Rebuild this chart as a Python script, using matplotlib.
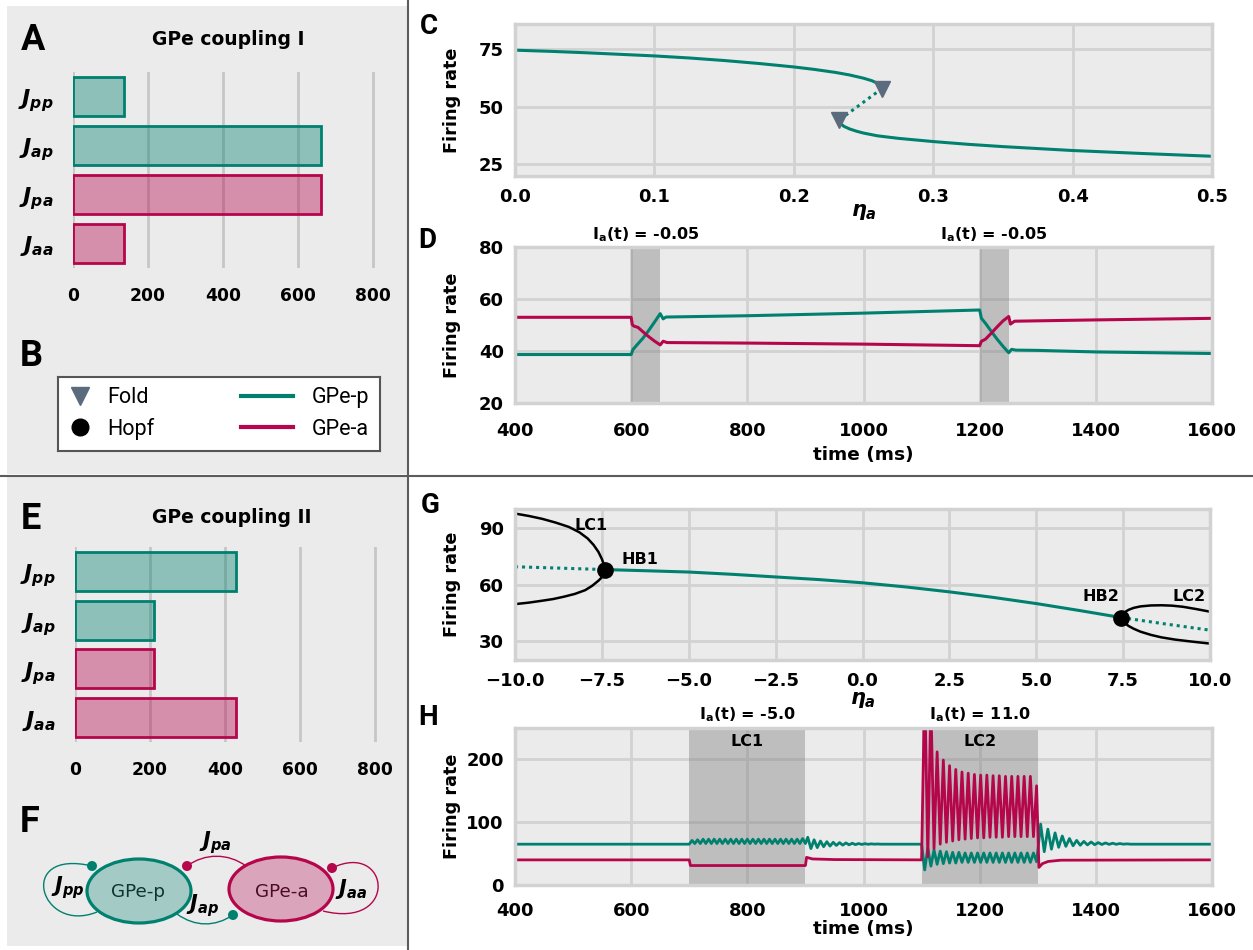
import numpy as np
import matplotlib
matplotlib.use("Agg")
import matplotlib.pyplot as plt
from matplotlib.colors import to_rgba
from matplotlib.patches import Ellipse, Rectangle, Circle, PathPatch
from matplotlib.path import Path
from matplotlib.transforms import blended_transform_factory

# ----------------------------- style -----------------------------
W, H = 1253, 950
TEAL = "#00806f"
CRIMSON = "#b5064b"
FOLD_GRAY = "#5b6b7e"
PANEL_BG = "#ebebeb"
GRID = "#d2d2d2"
DIVIDER = "#5c5c5c"

plt.rcParams.update({
    "font.family": "DejaVu Sans",
    "font.weight": "bold",
    "axes.labelweight": "bold",
    "mathtext.fontset": "custom",
    "mathtext.it": "DejaVu Sans:italic:bold",
    "mathtext.rm": "DejaVu Sans:bold",
    "mathtext.bf": "DejaVu Sans:bold",
})

# ----------------------------- data -----------------------------
J_LABELS = [r"$J_{pp}$", r"$J_{ap}$", r"$J_{pa}$", r"$J_{aa}$"]
J_COUPLING_I = [136, 662, 662, 136]
J_COUPLING_II = [430, 210, 210, 430]
J_COLORS = [TEAL, TEAL, CRIMSON, CRIMSON]

# C: continuation in eta_a (coupling I)
C_UP_ETA = [0.0, 0.025, 0.05, 0.075, 0.1, 0.125, 0.15, 0.175, 0.2, 0.215, 0.23, 0.24,
            0.25, 0.256, 0.26, 0.2625, 0.2633]
C_UP_RATE = [74.6, 74.1, 73.5, 72.8, 72.1, 71.2, 70.1, 68.8, 67.3, 66.2, 64.9, 63.8,
             62.4, 61.3, 60.2, 59.2, 57.9]
C_UNST_ETA = [0.2633, 0.2324]
C_UNST_RATE = [57.9, 44.1]
C_LO_ETA = [0.2324, 0.2335, 0.236, 0.24, 0.245, 0.25, 0.26, 0.275, 0.3, 0.325, 0.35,
            0.4, 0.45, 0.5]
C_LO_RATE = [44.1, 42.6, 41.4, 40.3, 39.3, 38.5, 37.3, 36.2, 34.8, 33.6, 32.6,
             30.9, 29.6, 28.4]
C_FOLD_ETA = [0.2633, 0.2324]
C_FOLD_RATE = [57.9, 44.1]

# D: time series (coupling I)
D_T_P = [400, 600, 603, 610, 620, 630, 640, 650, 655, 660, 800, 1000, 1200,
         1203, 1210, 1220, 1230, 1240, 1250, 1255, 1262, 1300, 1400, 1500, 1600]
D_RATE_P = [38.6, 38.6, 40.5, 42.3, 44.8, 47.8, 51.0, 54.3, 52.3, 53.0, 53.5, 54.5, 55.7,
            52.5, 50.6, 47.5, 44.5, 41.8, 39.3, 40.6, 40.3, 40.2, 39.6, 39.3, 39.0]
D_T_A = [400, 600, 602, 605, 612, 620, 630, 640, 650, 655, 662, 800, 1000, 1200,
         1203, 1210, 1220, 1230, 1240, 1250, 1253, 1260, 1400, 1600]
D_RATE_A = [52.9, 52.9, 50.0, 49.5, 49.0, 47.4, 45.5, 43.8, 42.3, 43.7, 43.2, 43.0, 42.6, 42.0,
            43.7, 44.5, 46.8, 49.2, 51.5, 53.2, 50.3, 51.4, 51.9, 52.5]
D_STIM = [(600, 650), (1200, 1250)]

# G: continuation in eta_a (coupling II)
G_STABLE_ETA = [-7.40, -6.25, -5.0, -3.75, -2.5, -1.25, 0.0, 1.25, 2.5, 3.75, 5.0, 6.25, 7.44]
G_STABLE_RATE = [67.9, 67.3, 66.6, 65.4, 64.0, 62.6, 60.9, 58.7, 56.1, 53.2, 49.9, 46.2, 42.5]
G_UNST1_ETA = [-10.0, -8.75, -7.40]
G_UNST1_RATE = [69.4, 68.7, 67.9]
G_UNST2_ETA = [7.44, 8.75, 10.0]
G_UNST2_RATE = [42.5, 39.0, 35.8]
G_LC1_ETA = [-10.0, -9.6, -9.22, -8.83, -8.45, -8.15, -7.91, -7.74, -7.6, -7.5, -7.44, -7.40,
             -7.42, -7.48, -7.6, -7.78, -7.98, -8.28, -8.6, -8.9, -9.22, -9.6, -10.0]
G_LC1_RATE = [97.6, 96.3, 94.8, 92.8, 90.5, 87.7, 84.4, 81.0, 77.3, 73.5, 70.5, 67.9,
              66.0, 64.2, 62.0, 59.3, 57.0, 55.0, 53.5, 52.3, 51.4, 50.4, 49.6]
G_LC2_ETA = [10.0, 9.6, 9.22, 8.9, 8.6, 8.3, 8.0, 7.8, 7.66, 7.55, 7.47, 7.44,
             7.47, 7.55, 7.66, 7.8, 8.0, 8.3, 8.6, 9.0, 9.5, 10.0]
G_LC2_RATE = [45.6, 47.0, 48.2, 48.8, 49.0, 48.9, 48.4, 47.6, 46.6, 45.4, 44.0, 42.5,
              41.0, 39.5, 38.0, 36.6, 35.0, 33.3, 32.0, 30.8, 29.7, 28.7]
G_HOPF_ETA = [-7.40, 7.44]
G_HOPF_RATE = [67.9, 42.5]

# H: time series (coupling II), oscillations given as read-off peaks / troughs
H_P_LC1_PEAKS = [71, 72, 73, 73, 73, 73, 73, 73, 73, 73, 73, 73, 73, 73, 73, 73, 73, 73, 73, 73, 74]
H_P_LC1_TROUGHS = [66, 66, 66, 66, 66, 66, 66, 66, 66, 66, 66, 66, 66, 66, 66, 66, 66, 66, 66, 66, 66]
H_P_RING1 = [76, 58, 72, 59.5, 70, 61, 69, 62, 68, 63, 67.5, 63.5, 67, 64, 66.5, 64.3,
             66, 64.6, 65.8, 64.8, 65.5, 65, 65.3, 65]
H_P_LC2_TROUGHS = [24, 30, 33, 34, 35, 35, 36, 36, 36, 36, 36, 36, 36, 36, 36, 36, 36, 36, 37]
H_P_LC2_PEAKS = [59, 56, 54, 53, 52, 52, 51, 51, 51, 51, 51, 51, 51, 51, 51, 51, 51, 51]
H_P_RING2 = [97, 53, 89, 57, 83, 60, 78, 61.5, 74, 62.5, 71, 63.3, 69.5, 63.8, 68.5, 64.2,
             67.5, 64.5, 67, 64.7, 66.5, 64.8, 66, 65, 65.5, 65]
H_A_LC2_PEAKS = [320, 290, 212, 199, 190, 184, 180, 178, 176, 175, 175, 174, 174, 173, 173, 173, 173, 173, 158]
H_A_LC2_TROUGHS = [45, 58, 65, 68, 70, 72, 73, 74, 75, 75, 76, 76, 76, 77, 77, 77, 77, 77]
H_A_PRE_T = [400, 700, 702, 900, 902, 912, 950, 1100]
H_A_PRE_V = [40, 40, 31, 31, 44, 41.5, 40.5, 40]
H_A_POST_T = [1302, 1308, 1318, 1340, 1600]
H_A_POST_V = [28, 34, 37.5, 39.5, 40]
H_STIM = [(700, 900), (1100, 1300)]


def interleave(first, second):
    out = []
    for i in range(max(len(first), len(second))):
        if i < len(first):
            out.append(first[i])
        if i < len(second):
            out.append(second[i])
    return out


def build_h_series():
    # GPe-p
    lc1 = interleave(H_P_LC1_PEAKS, H_P_LC1_TROUGHS)
    lc2 = interleave(H_P_LC2_TROUGHS, H_P_LC2_PEAKS)
    tp = np.concatenate([[400, 700], np.linspace(700, 900, len(lc1) + 1)[1:],
                         np.linspace(904, 1030, len(H_P_RING1)), [1100],
                         np.linspace(1100, 1298, len(lc2) + 1)[1:],
                         np.linspace(1305, 1460, len(H_P_RING2)), [1600]])
    vp = np.concatenate([[65, 65], lc1, H_P_RING1, [65], lc2, H_P_RING2, [65]])
    # GPe-a
    lc2a = interleave(H_A_LC2_PEAKS, H_A_LC2_TROUGHS)
    ta = np.concatenate([H_A_PRE_T, np.linspace(1100, 1298, len(lc2a) + 1)[1:], H_A_POST_T])
    va = np.concatenate([H_A_PRE_V, lc2a, H_A_POST_V])
    return tp, vp, ta, va


# ----------------------------- helpers -----------------------------
fig = plt.figure(figsize=(W / 100, H / 100), dpi=100)


def px_axes(left, top, right, bottom, **kw):
    return fig.add_axes([left / W, 1 - bottom / H, (right - left) / W, (bottom - top) / H], **kw)


def fig_text(x, y, s, **kw):
    return fig.text(x / W, 1 - y / H, s, **kw)


def style_right(ax, xpad):
    ax.set_facecolor(PANEL_BG)
    ax.grid(True, color=GRID, lw=2.0)
    ax.set_axisbelow(True)
    for sp in ax.spines.values():
        sp.set_color(GRID)
        sp.set_linewidth(2.5)
    ax.tick_params(length=0, labelsize=13)
    ax.tick_params(axis="x", pad=xpad)
    ax.tick_params(axis="y", pad=8)
    ax.set_ylabel("Firing rate", fontsize=12.7, fontweight="bold")
    ax.yaxis.set_label_coords(-0.0904, 0.5)
    ax.yaxis.label.set_va("center")


def set_xlabel_at(ax, text, y, size):
    ax.set_xlabel(text, fontsize=size, fontweight="bold")
    ax.xaxis.set_label_coords(0.5, y)
    ax.xaxis.label.set_va("center")


def bar_panel(ax, values):
    ax.barh(range(len(values)), values, height=0.8,
            color=[to_rgba(c, 0.4) for c in J_COLORS], edgecolor=J_COLORS, linewidth=2, zorder=2)
    ax.set_ylim(len(values) - 0.5, -0.5)
    ax.set_xlim(0, 850)
    ax.set_xticks([0, 200, 400, 600, 800])
    ax.set_yticks(range(len(values)))
    ax.set_yticklabels(J_LABELS, fontsize=16)
    ax.grid(axis="x", color="#c6c6c6", lw=2)
    ax.set_axisbelow(True)
    ax.set_facecolor("none")
    for sp in ax.spines.values():
        sp.set_visible(False)
    ax.tick_params(length=0)
    ax.tick_params(axis="x", labelsize=12.3, pad=14)
    ax.tick_params(axis="y", pad=14)


# ----------------------------- background & dividers -----------------------------
bg = fig.add_axes([0, 0, 1, 1], zorder=-5)
bg.set_xlim(0, W)
bg.set_ylim(H, 0)
bg.axis("off")
bg.add_patch(Rectangle((7, 6), 401, 468, fc=PANEL_BG, ec="none"))
bg.add_patch(Rectangle((7, 477), 401, 469, fc=PANEL_BG, ec="none"))
bg.plot([408, 408], [0, H], color=DIVIDER, lw=1.5)
bg.plot([0, W], [475.5, 475.5], color=DIVIDER, lw=1.5)

# ----------------------------- A / E: coupling bars -----------------------------
axA = px_axes(73, 72, 391.75, 268)
bar_panel(axA, J_COUPLING_I)
fig_text(228, 45, "GPe coupling I", fontsize=13.5, ha="center", va="baseline")

axE = px_axes(75, 547, 393.75, 742)
bar_panel(axE, J_COUPLING_II)
fig_text(232, 523, "GPe coupling II", fontsize=13.5, ha="center", va="baseline")

# ----------------------------- B: legend -----------------------------
axB = px_axes(57.7, 376.7, 380, 450.7)
axB.set_xlim(57.7, 380)
axB.set_ylim(450.7, 376.7)
axB.set_xticks([])
axB.set_yticks([])
axB.set_facecolor("white")
for sp in axB.spines.values():
    sp.set_color("#555555")
    sp.set_linewidth(1.5)
axB.plot([80], [396], marker="v", ms=13, color=FOLD_GRAY, ls="none")
axB.plot([80], [427.5], marker="o", ms=12, color="black", ls="none")
axB.plot([240.7, 293.3], [396, 396], color=TEAL, lw=3)
axB.plot([240.7, 293.3], [427.5, 427.5], color=CRIMSON, lw=3)
for xx, yy, s in [(107, 403.3, "Fold"), (107, 435, "Hopf"), (311.7, 403.3, "GPe-p"), (311.7, 435, "GPe-a")]:
    axB.text(xx, yy, s, fontsize=15.5, fontweight="normal", family="Roboto", va="baseline", ha="left")

# ----------------------------- F: network sketch -----------------------------
bg.add_patch(Ellipse((139, 891), 104, 64, fc=to_rgba(TEAL, 0.3), ec=TEAL, lw=2.3))
bg.add_patch(Ellipse((281, 889), 104, 64, fc=to_rgba(CRIMSON, 0.3), ec=CRIMSON, lw=2.3))
bg.text(138.5, 896.7, "GPe-p", fontsize=13.2, fontweight="normal", color="#0f3530", ha="center", va="baseline")
bg.text(281.7, 896.7, "GPe-a", fontsize=13.2, fontweight="normal", color="#4a0d24", ha="center", va="baseline")

arcs = [
    ([(97, 912), (40, 935), (15, 848), (92, 866)], TEAL),       # J_pp
    ([(246, 866), (228, 853), (205, 853), (187, 866)], CRIMSON),  # J_pa
    ([(177, 914), (195, 927), (215, 927), (233, 915)], TEAL),     # J_ap
    ([(332, 868), (390, 840), (400, 930), (323, 911)], CRIMSON),  # J_aa
]
for pts, col in arcs:
    path = Path(pts, [Path.MOVETO, Path.CURVE4, Path.CURVE4, Path.CURVE4])
    bg.add_patch(PathPatch(path, fc="none", ec=col, lw=1.0))
for (cx, cy), col in [((92, 866), TEAL), ((187, 866), CRIMSON), ((233, 915), TEAL), ((332, 868), CRIMSON)]:
    bg.add_patch(Circle((cx, cy), 5, fc=col, ec="none"))
for xx, yy, s in [(68, 888, r"$J_{pp}$"), (215, 843, r"$J_{pa}$"), (203, 906, r"$J_{ap}$"), (351, 889, r"$J_{aa}$")]:
    bg.text(xx, yy, s, fontsize=15, ha="center", va="center")

# ----------------------------- C -----------------------------
axC = px_axes(515, 24, 1212, 176)
style_right(axC, xpad=8.5)
axC.plot(C_UP_ETA, C_UP_RATE, color=TEAL, lw=2.2)
axC.plot(C_LO_ETA, C_LO_RATE, color=TEAL, lw=2.2)
axC.plot(C_UNST_ETA, C_UNST_RATE, color=TEAL, lw=2.2, ls=(0, (1, 1.3)))
axC.plot(C_FOLD_ETA, C_FOLD_RATE, marker="v", ms=12, color=FOLD_GRAY, ls="none", zorder=5)
axC.set_xlim(0, 0.5)
axC.set_ylim(19.8, 86)
axC.set_xticks([0.0, 0.1, 0.2, 0.3, 0.4, 0.5])
axC.set_yticks([25, 50, 75])
set_xlabel_at(axC, r"$\eta_a$", -0.24, 15)

# ----------------------------- D -----------------------------
axD = px_axes(515, 246.7, 1212, 403)
style_right(axD, xpad=13.5)
for t0, t1 in D_STIM:
    axD.axvspan(t0, t1, color="gray", alpha=0.42, lw=0)
axD.plot(D_T_P, D_RATE_P, color=TEAL, lw=2.2)
axD.plot(D_T_A, D_RATE_A, color=CRIMSON, lw=2.2)
axD.set_xlim(400, 1600)
axD.set_ylim(20, 80)
axD.set_xticks(range(400, 1601, 200))
axD.set_yticks([20, 40, 60, 80])
set_xlabel_at(axD, "time (ms)", -0.33, 13.3)
trD = blended_transform_factory(axD.transData, axD.transAxes)
for t0, t1 in D_STIM:
    axD.text((t0 + t1) / 2, 1.076, r"I$_\mathrm{a}$(t) = -0.05", transform=trD,
             fontsize=11.5, ha="center", va="center")

# ----------------------------- G -----------------------------
axG = px_axes(515, 509, 1210, 660)
style_right(axG, xpad=8.5)
axG.plot(G_LC1_ETA, G_LC1_RATE, color="black", lw=1.8)
axG.plot(G_LC2_ETA, G_LC2_RATE, color="black", lw=1.8)
axG.plot(G_STABLE_ETA, G_STABLE_RATE, color=TEAL, lw=2.2)
axG.plot(G_UNST1_ETA, G_UNST1_RATE, color=TEAL, lw=2.2, ls=(0, (1, 1.3)))
axG.plot(G_UNST2_ETA, G_UNST2_RATE, color=TEAL, lw=2.2, ls=(0, (1, 1.3)))
axG.plot(G_HOPF_ETA, G_HOPF_RATE, marker="o", ms=11, color="black", ls="none", zorder=5)
axG.set_xlim(-10, 10)
axG.set_ylim(20, 100)
axG.set_xticks(np.arange(-10, 10.1, 2.5))
axG.set_yticks([30, 60, 90])
for xx, yy, s in [(-7.8, 91.5, "LC1"), (-6.4, 73.5, "HB1"), (6.85, 53.5, "HB2"), (9.4, 53.5, "LC2")]:
    axG.text(xx, yy, s, fontsize=11.5, ha="center", va="center")
set_xlabel_at(axG, r"$\eta_a$", -0.265, 15)

# ----------------------------- H -----------------------------
axH = px_axes(515, 728, 1212, 885)
style_right(axH, xpad=12)
for t0, t1 in H_STIM:
    axH.axvspan(t0, t1, color="gray", alpha=0.42, lw=0)
tp, vp, ta, va = build_h_series()
axH.plot(tp, vp, color=TEAL, lw=2.0)
axH.plot(ta, va, color=CRIMSON, lw=2.0)
axH.set_xlim(400, 1600)
axH.set_ylim(0, 250)
axH.set_xticks(range(400, 1601, 200))
axH.set_yticks([0, 100, 200])
set_xlabel_at(axH, "time (ms)", -0.28, 13.3)
trH = blended_transform_factory(axH.transData, axH.transAxes)
axH.text(800, 1.083, r"I$_\mathrm{a}$(t) = -5.0", transform=trH, fontsize=11.5, ha="center", va="center")
axH.text(1200, 1.083, r"I$_\mathrm{a}$(t) = 11.0", transform=trH, fontsize=11.5, ha="center", va="center")
axH.text(800, 228, "LC1", fontsize=11.5, ha="center", va="center")
axH.text(1200, 228, "LC2", fontsize=11.5, ha="center", va="center")

# ----------------------------- panel letters -----------------------------
for xx, yy, s in [(21, 50, "A"), (20, 366, "B"), (21, 529, "E"), (20, 832, "F")]:
    fig_text(xx, yy, s, fontsize=26, family="Roboto", fontweight="bold", ha="left", va="baseline")
for xx, yy, s in [(420, 34, "C"), (418, 248, "D"), (421, 513, "G"), (418, 725, "H")]:
    fig_text(xx, yy, s, fontsize=20, family="Roboto", fontweight="bold", ha="left", va="baseline")

fig.savefig("out.png", dpi=100)
